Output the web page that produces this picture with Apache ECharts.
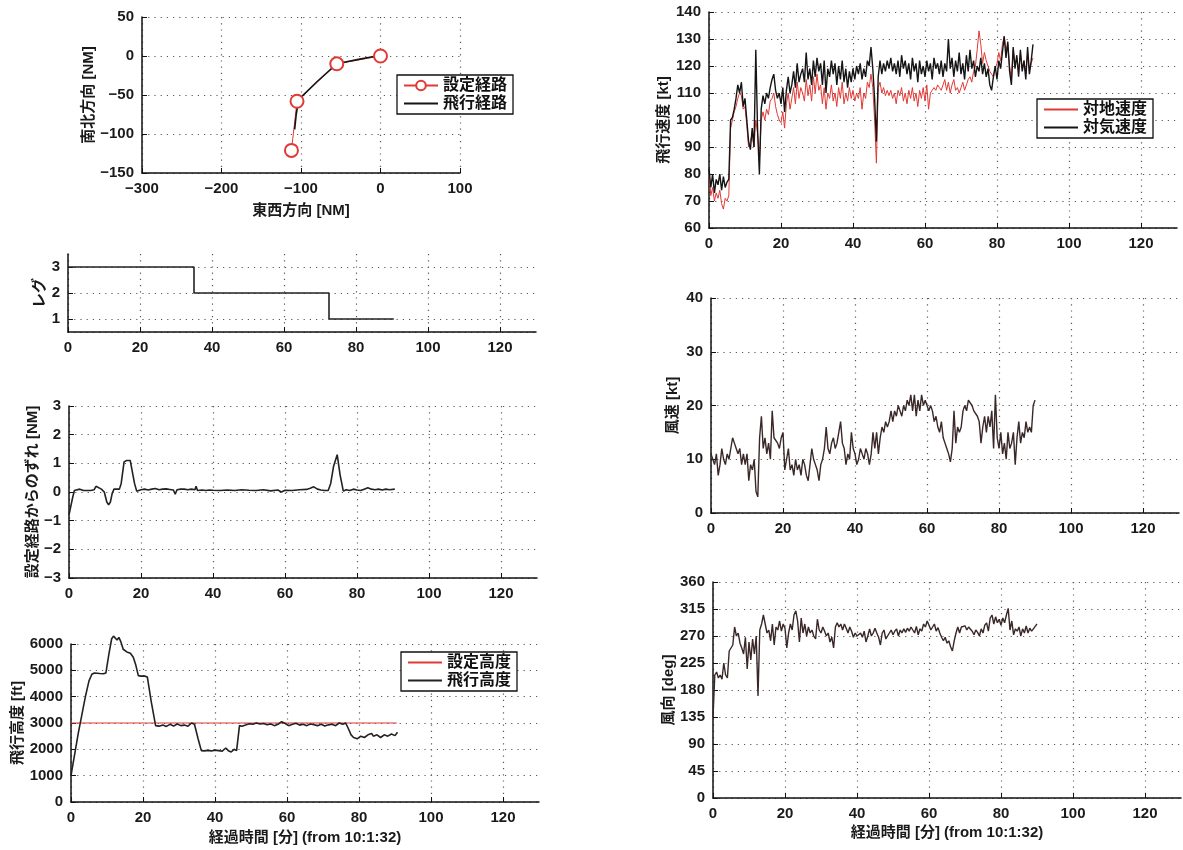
<!DOCTYPE html>
<html>
<head>
<meta charset="utf-8">
<title>飛行記録</title>
<script src="https://cdn.jsdelivr.net/npm/echarts@6.0.0/dist/echarts.min.js"></script>
<style>
html, body { margin: 0; padding: 0; background: #fff; }
#chart { width: 1183px; height: 850px; }
</style>
</head>
<body>
<div id="chart"></div>
<script>
// 経路 [NM] (東西, 南北)
var routeSet = [[0, 0], [-55, -10], [-105, -58], [-112, -121]];
var routeFly = [[0, 0], [-10, -1], [-26, -4], [-55, -10], [-80, -33], [-103, -56], [-106, -75], [-108, -94]];

// レグ (経過時間 [分], レグ番号)
var legPts = [[0, 3], [35, 3], [35, 2], [72.5, 2], [72.5, 1], [90.5, 1]];

// 設定経路からのずれ [NM]
var devPts = [
	[0, -0.8], [0.5, -0.5], [1, -0.2], [1.5, 0.05], [2, 0.1], [3, 0.1], [4, 0.05], [5, 0.05], [6, 0.05], [7, 0.08],
	[7.5, 0.2], [8, 0.15], [9, 0.1], [9.8, 0], [10.5, -0.35], [11, -0.45], [11.5, -0.35], [12, -0.05], [12.5, 0.1], [13, 0.12],
	[14, 0.1], [14.5, 0.3], [15.3, 1.05], [16, 1.1], [17, 1.1], [17.3, 1.05], [18.2, 0.3], [18.8, 0.03], [20, 0.08], [21, 0.1],
	[22, 0.07], [23, 0.1], [24, 0.12], [25, 0.08], [26, 0.1], [27, 0.11], [28, 0.09], [29, 0.07], [29.5, -0.08], [30, 0.08],
	[31, 0.1], [32, 0.1], [33, 0.08], [34, 0.1], [35, 0.08], [35.3, 0.2], [35.7, 0.05], [36, 0], [37, 0.07], [38, 0.05],
	[39, 0.07], [40, 0.06], [42, 0.05], [44, 0.07], [46, 0.05], [48, 0.08], [50, 0.06], [52, 0.05], [54, 0.08], [56, 0.04],
	[58, 0.07], [59, 0], [60, 0.06], [62, 0.05], [64, 0.08], [66, 0.09], [67, 0.13], [68, 0.18], [69, 0.1], [70, 0.07],
	[71, 0.05], [72, 0.05], [72.7, 0.3], [73.5, 0.9], [74.5, 1.3], [75.3, 0.6], [76.2, 0.03], [77, 0.08], [78, 0.05], [79, 0.1],
	[80, 0.07], [81, 0.05], [82, 0.1], [83, 0.15], [84, 0.1], [85, 0.08], [86, 0.1], [87, 0.07], [88, 0.1], [89, 0.08], [90.5, 0.1]
];

// 高度 [ft]
var altSet = [[0, 3000], [90.5, 3000]];
var altFly = [
	[0, 1000], [1, 1800], [2, 2600], [3, 3300], [4, 4000], [5, 4600], [5.8, 4850], [6.5, 4900], [7, 4850], [8, 4880],
	[9, 4870], [9.7, 4900], [10.5, 5600], [11.3, 6200], [11.8, 6300], [12.3, 6250], [12.8, 6150], [13.3, 6250], [13.8, 6100], [14.5, 5800],
	[15.5, 5700], [16.5, 5650], [17.3, 5500], [18, 5200], [18.7, 4800], [19.5, 4780], [20.5, 4780], [21.2, 4750], [22.3, 3800], [23.5, 2900],
	[24.5, 2880], [25.5, 2920], [26.5, 2870], [27.5, 2950], [28.5, 2880], [29.5, 2960], [30.5, 2900], [31.5, 2920], [32.5, 2880], [33.5, 3000],
	[34.3, 2950], [35.3, 2400], [36.2, 1950], [37, 1940], [38, 1960], [39, 1940], [40, 1970], [41, 1950], [42, 1930], [43, 2050],
	[43.7, 1950], [44.5, 1900], [45.3, 2000], [46, 1950], [46.8, 2900], [47.5, 2880], [48.5, 2920], [49.5, 2970], [50.5, 2950], [51.5, 3000],
	[52.5, 2960], [53.5, 2980], [54.5, 2930], [55.5, 2960], [56.5, 2900], [57.5, 2950], [58.5, 3050], [59.5, 2980], [60.5, 2900], [61.5, 2950],
	[62.5, 2990], [63.5, 2920], [64.5, 2950], [65.5, 2900], [66.5, 2960], [67.5, 2930], [68.5, 2900], [69.5, 2950], [70.5, 2890], [71.5, 2930],
	[72.5, 2950], [73.5, 2900], [74.5, 3000], [75.5, 2950], [76.3, 3000], [77, 2800], [77.8, 2550], [78.5, 2450], [79.5, 2400], [80.5, 2500],
	[81.5, 2450], [82.5, 2550], [83.5, 2600], [84, 2500], [85, 2550], [86, 2450], [87, 2550], [88, 2500], [89, 2580], [90, 2520], [90.7, 2650]
];

// 0.5分ごとのサンプル (0〜90分)
var SAMPLE_STEP = 0.5;

// 対地速度 [kt]
var groundSpeed = [
	80, 72, 75, 70, 73, 71, 74, 69, 67, 71, 70, 72, 97, 100, 103, 105, 108, 110, 109, 104,
	105, 98, 90, 92, 95, 90, 100, 95, 85, 100, 103, 100, 104, 102, 107, 108, 110, 105, 102, 100,
	99, 103, 97, 106, 110, 104, 108, 112, 106, 114, 108, 112, 110, 107, 115, 109, 113, 107, 116, 110,
	117, 111, 113, 106, 112, 104, 110, 108, 113, 107, 110, 105, 112, 108, 114, 106, 110, 107, 112, 108,
	111, 107, 110, 108, 112, 104, 110, 108, 114, 112, 117, 112, 100, 84, 112, 114, 110, 112, 109, 111,
	109, 111, 108, 110, 106, 111, 109, 112, 107, 110, 106, 111, 108, 112, 107, 110, 105, 111, 108, 112,
	107, 113, 104, 110, 111, 112, 111, 113, 112, 111, 113, 115, 111, 114, 110, 113, 115, 111, 112, 110,
	112, 114, 111, 113, 115, 116, 114, 118, 120, 126, 133, 128, 121, 125, 122, 120, 118, 117, 116, 119,
	121, 125, 122, 128, 131, 126, 128, 120, 115, 126, 121, 123, 118, 125, 119, 122, 117, 125, 118, 121,
	123
];
// 対気速度 [kt]
var airSpeed = [
	82, 75, 80, 73, 78, 76, 80, 74, 79, 75, 77, 78, 100, 101, 104, 108, 113, 110, 114, 105,
	108, 100, 92, 89, 97, 90, 126, 96, 80, 104, 109, 106, 110, 108, 112, 115, 117, 111, 108, 110,
	106, 112, 103, 111, 116, 110, 113, 118, 112, 121, 114, 117, 119, 114, 125, 115, 119, 113, 122, 116,
	123, 118, 121, 113, 122, 110, 119, 116, 122, 117, 121, 113, 120, 115, 122, 114, 119, 112, 118, 114,
	119, 115, 120, 117, 121, 115, 119, 116, 122, 120, 127, 119, 108, 92, 116, 122, 117, 121, 118, 122,
	119, 123, 118, 121, 117, 122, 116, 124, 119, 122, 117, 121, 115, 123, 118, 121, 114, 122, 117, 120,
	116, 122, 118, 121, 115, 123, 119, 121, 117, 122, 116, 121, 118, 130, 119, 123, 116, 122, 118, 125,
	117, 121, 115, 124, 118, 126, 119, 122, 116, 120, 118, 123, 117, 121, 116, 119, 113, 111, 116, 120,
	115, 122, 119, 125, 131, 123, 129, 118, 113, 127, 119, 124, 116, 126, 118, 122, 115, 127, 117, 122,
	128
];
// 風速 [kt]
var windSpeed = [
	11, 10, 9, 11, 7, 9, 12, 10, 9, 11, 10, 10, 14, 13, 12, 11, 12, 9, 11, 9,
	11, 6, 9, 8, 10, 4, 3, 14, 18, 12, 14, 11, 13, 10, 19, 14, 14, 13, 12, 14,
	15, 8, 10, 12, 8, 9, 7, 10, 8, 9, 7, 10, 9, 7, 6, 9, 12, 10, 9, 8,
	6, 9, 10, 12, 16, 12, 11, 13, 14, 12, 13, 15, 17, 13, 12, 9, 11, 10, 15, 12,
	11, 9, 10, 12, 11, 10, 12, 11, 9, 11, 15, 12, 15, 11, 14, 16, 15, 17, 16, 17,
	19, 17, 19, 18, 20, 19, 18, 20, 19, 21, 20, 22, 19, 22, 18, 21, 19, 22, 20, 21,
	20, 19, 20, 19, 17, 18, 16, 15, 17, 14, 13, 12, 11, 9.5, 12, 19, 13, 16, 15, 16,
	19, 20, 19, 21, 21, 20, 19, 19, 18, 17, 13, 16, 18, 15, 18, 16, 19, 12, 22, 14,
	12, 15, 11, 13, 10, 15, 12, 13, 15, 9, 14, 17, 13, 15, 14, 17, 15, 16, 15, 20,
	21
];
// 風向 [deg]
var windDir = [
	135, 205, 210, 200, 205, 198, 225, 205, 200, 245, 250, 255, 285, 270, 275, 258, 250, 240, 268, 215,
	260, 230, 265, 240, 270, 170, 280, 290, 305, 290, 275, 280, 262, 290, 255, 285, 280, 295, 278, 290,
	283, 250, 275, 290, 280, 305, 312, 295, 260, 300, 275, 290, 270, 285, 275, 280, 270, 265, 298, 280,
	275, 285, 278, 270, 275, 260, 268, 250, 285, 292, 285, 290, 280, 290, 283, 275, 285, 278, 268, 275,
	270, 272, 275, 268, 278, 260, 270, 282, 270, 275, 283, 275, 268, 255, 275, 280, 265, 270, 275, 280,
	272, 278, 282, 270, 280, 275, 282, 276, 283, 278, 285, 280, 275, 286, 272, 282, 278, 290, 285, 295,
	288, 280, 285, 290, 278, 284, 275, 268, 262, 268, 258, 262, 252, 245, 262, 275, 285, 275, 285, 283,
	287, 280, 285, 283, 278, 272, 280, 276, 270, 282, 275, 288, 292, 278, 300, 305, 290, 302, 292, 298,
	288, 300, 292, 305, 316, 280, 295, 272, 282, 278, 285, 270, 282, 275, 287, 275, 283, 278, 282, 286,
	290
];

var timeTicks = { min: 0, max: 130, interval: 20 };
var FONT = "'Liberation Sans','Noto Sans CJK JP',sans-serif";
var RED = '#e03a36';
var BLACK = '#151515';

// サンプル列を [時間, 値] に
function toTimeSeries(values) {
	return values.map(function (v, i) { return [i * SAMPLE_STEP, v]; });
}

function minusSign(v) {
	return String(v).replace('-', '\u2212');
}

// MATLAB風の軸
function makeAxis(extra) {
	var base = {
		type: 'value',
		nameLocation: 'middle',
		nameTextStyle: { color: '#1a1a1a', fontSize: 15, fontWeight: 'bold', fontFamily: FONT },
		axisLine: { show: true, onZero: false, lineStyle: { color: '#111', width: 1.5 } },
		axisTick: { show: true, inside: true, length: 5, lineStyle: { color: '#111', width: 1 } },
		axisLabel: { color: '#1a1a1a', fontSize: 15, fontWeight: 'bold', fontFamily: FONT, formatter: minusSign },
		splitLine: { show: true, lineStyle: { color: '#5a5a5a', width: 1.2, type: [1.2, 5] } }
	};
	return echarts.util.merge(base, extra || {}, true);
}

function timeAxis(grid, name, gap) {
	var a = makeAxis({
		gridIndex: grid,
		min: timeTicks.min,
		max: timeTicks.max,
		interval: timeTicks.interval,
		axisLabel: { showMaxLabel: false },
		splitLine: { showMaxLine: false }
	});
	if (name) { a.name = name; a.nameGap = gap; }
	return a;
}

function lineSeries(name, data, x, y, color, width) {
	return {
		name: name, type: 'line', data: data,
		xAxisIndex: x, yAxisIndex: y,
		showSymbol: false, symbol: 'none', clip: false,
		lineStyle: { color: color, width: width },
		itemStyle: { color: color },
		animation: false
	};
}

// 凡例: 線だけの項目は記号を隠す
function legendBox(items, left, top) {
	return {
		data: items.map(function (it) {
			return it.marker ? { name: it.name } : { name: it.name, itemStyle: { opacity: 0 } };
		}),
		orient: 'vertical', left: left, top: top,
		backgroundColor: '#fff', borderColor: '#111', borderWidth: 1.3, borderRadius: 0,
		padding: [2, 6, 2, 6], itemGap: 1, itemWidth: 34, itemHeight: 12,
		textStyle: { color: '#111', fontSize: 16, fontWeight: 'bold', fontFamily: FONT, lineHeight: 17 },
		selectedMode: false
	};
}

var chart = echarts.init(document.getElementById('chart'), null, { renderer: 'canvas' });

var option = {
	backgroundColor: '#fff',
	animation: false,
	grid: [
		{ left: 142, top: 17, width: 318, height: 156 },  // 経路
		{ left: 709, top: 12, width: 468, height: 216 },  // 飛行速度
		{ left: 68, top: 254, width: 468, height: 78 },   // レグ
		{ left: 69, top: 406, width: 468, height: 172 },  // ずれ
		{ left: 71, top: 644, width: 468, height: 158 },  // 飛行高度
		{ left: 711, top: 298, width: 468, height: 215 }, // 風速
		{ left: 713, top: 582, width: 468, height: 216 }  // 風向
	],
	legend: [
		legendBox([{ name: '設定経路', marker: true }, { name: '飛行経路' }], 397, 75),
		legendBox([{ name: '対地速度' }, { name: '対気速度' }], 1037, 99),
		legendBox([{ name: '設定高度' }, { name: '飛行高度' }], 401, 652)
	],
	xAxis: [
		makeAxis({ gridIndex: 0, min: -300, max: 100, interval: 100, name: '東西方向 [NM]', nameGap: 30 }),
		timeAxis(1),
		timeAxis(2),
		timeAxis(3),
		timeAxis(4, '経過時間 [分] (from 10:1:32)', 28),
		timeAxis(5),
		timeAxis(6, '経過時間 [分] (from 10:1:32)', 27)
	],
	yAxis: [
		makeAxis({ gridIndex: 0, min: -150, max: 50, interval: 50, name: '南北方向 [NM]', nameGap: 46 }),
		makeAxis({ gridIndex: 1, min: 60, max: 140, interval: 10, name: '飛行速度 [kt]', nameGap: 38 }),
		makeAxis({ gridIndex: 2, min: 0.5, max: 3.5, splitNumber: 3, name: 'レグ', nameGap: 17,
			axisLabel: { showMinLabel: false, showMaxLabel: false }, splitLine: { showMaxLine: false } }),
		makeAxis({ gridIndex: 3, min: -3, max: 3, interval: 1, name: '設定経路からのずれ [NM]', nameGap: 19 }),
		makeAxis({ gridIndex: 4, min: 0, max: 6000, interval: 1000, name: '飛行高度 [ft]', nameGap: 46 }),
		makeAxis({ gridIndex: 5, min: 0, max: 40, interval: 10, name: '風速 [kt]', nameGap: 31 }),
		makeAxis({ gridIndex: 6, min: 0, max: 360, interval: 45, name: '風向 [deg]', nameGap: 36 })
	],
	series: [
		{
			name: '設定経路', type: 'line', data: routeSet, xAxisIndex: 0, yAxisIndex: 0,
			symbol: 'emptyCircle', symbolSize: 13, showSymbol: true,
			lineStyle: { color: RED, width: 1 }, itemStyle: { color: RED, borderWidth: 1.2 }
		},
		lineSeries('飛行経路', routeFly, 0, 0, BLACK, 1.6),
		lineSeries('対地速度', toTimeSeries(groundSpeed), 1, 1, RED, 1),
		lineSeries('対気速度', toTimeSeries(airSpeed), 1, 1, BLACK, 1.4),
		lineSeries('レグ', legPts, 2, 2, '#222', 1.6),
		lineSeries('ずれ', devPts, 3, 3, '#222', 1.6),
		lineSeries('設定高度', altSet, 4, 4, RED, 1.2),
		lineSeries('飛行高度', altFly, 4, 4, '#222', 1.6),
		lineSeries('風速', toTimeSeries(windSpeed), 5, 5, '#3a2828', 1.4),
		lineSeries('風向', toTimeSeries(windDir), 6, 6, '#3a2828', 1.4)
	]
};

chart.setOption(option);
</script>
</body>
</html>
